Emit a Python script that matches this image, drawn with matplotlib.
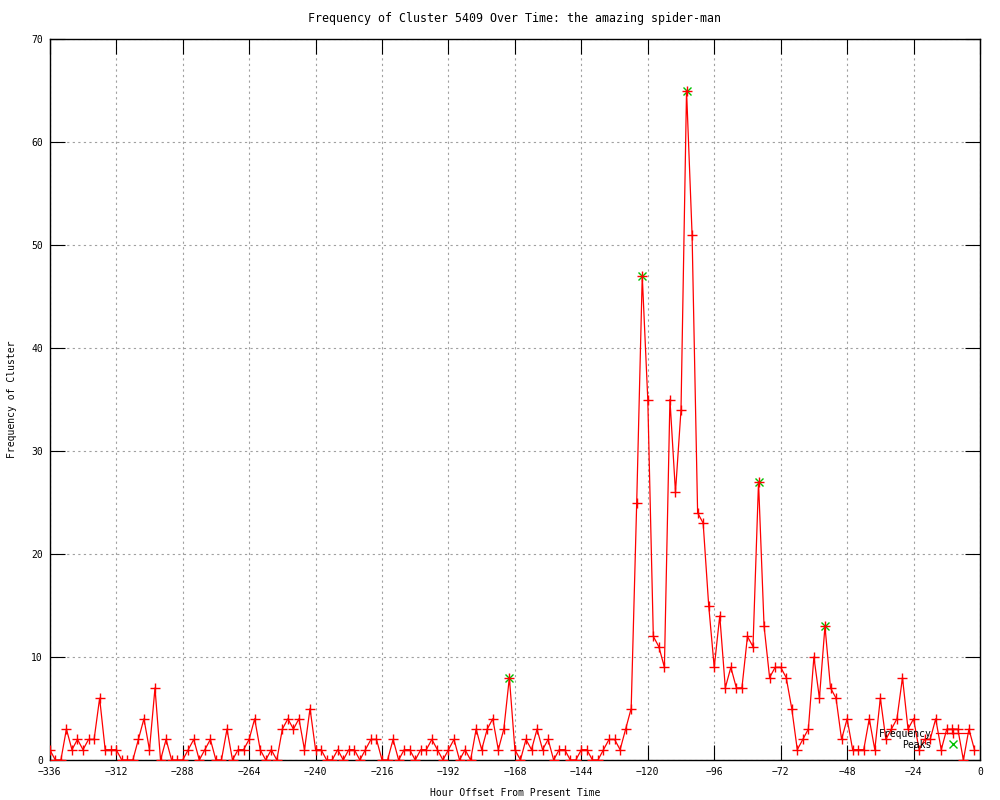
import numpy as np
import matplotlib
matplotlib.use('Agg')
import matplotlib.pyplot as plt

plt.rcParams['font.family'] = ['DejaVu Sans Mono']
plt.rcParams['font.size'] = 7

# hour offsets, every 2 hours from -336 to -2
hours = list(range(-336, 0, 2))
freq = [
    1, 0, 0, 3, 1, 2, 1, 2, 2, 6, 1, 1, 1, 0, 0, 0, 2, 4, 1, 7,   # -336 .. -298
    0, 2, 0, 0, 0, 1, 2, 0, 1, 2, 0, 0, 3, 0, 1, 1, 2, 4, 1, 0,   # -296 .. -258
    1, 0, 3, 4, 3, 4, 1, 5, 1, 1, 0, 0, 1, 0, 1, 1, 0, 1, 2, 2,   # -256 .. -218
    0, 0, 2, 0, 1, 1, 0, 1, 1, 2, 1, 0, 1, 2, 0, 1, 0, 3, 1, 3,   # -216 .. -178
    4, 1, 3, 8, 1, 0, 2, 1, 3, 1, 2, 0, 1, 1, 0, 0, 1, 1, 0, 0,   # -176 .. -138
    1, 2, 2, 1, 3, 5, 25, 47, 35, 12, 11, 9, 35, 26, 34, 65, 51, 24, 23, 15,  # -136 .. -98
    9, 14, 7, 9, 7, 7, 12, 11, 27, 13, 8, 9, 9, 8, 5, 1, 2, 3, 10, 6,  # -96 .. -58
    13, 7, 6, 2, 4, 1, 1, 1, 4, 1, 6, 2, 3, 4, 8, 3, 4, 1, 2, 2,  # -56 .. -18
    4, 1, 3, 3, 3, 0, 3, 1,  # -16 .. -2
]

peak_hours = [-170, -122, -106, -80, -56]
peak_vals = [8, 47, 65, 27, 13]

fig = plt.figure(figsize=(10, 8), dpi=100)
ax = fig.add_axes([0.0498, 0.05, 0.9302, 0.90125])

ax.plot(peak_hours, peak_vals, linestyle='none', marker='x', color='#00c000',
        markersize=6, markeredgewidth=1, label='Peaks', zorder=3)
ax.plot(hours, freq, color='red', linewidth=0.9, marker='+', markersize=7.5,
        markeredgewidth=1, label='Frequency', zorder=4)

ax.set_xlim(-336, 0)
ax.set_ylim(0, 70)
ax.set_xticks(range(-336, 1, 24))
ax.set_yticks(range(0, 71, 10))
ax.grid(True, color='#a0a0a0', linestyle=(0, (2, 3)), linewidth=0.8)
ax.tick_params(direction='in', length=11, top=True, right=True, pad=5)
for s in ax.spines.values():
    s.set_linewidth(1)

ax.set_title('Frequency of Cluster 5409 Over Time: the amazing spider-man', pad=12)
ax.set_xlabel('Hour Offset From Present Time', labelpad=8)
ax.set_ylabel('Frequency of Cluster', labelpad=10)

handles, labels = ax.get_legend_handles_labels()
ax.legend(handles[::-1], labels[::-1], loc='lower right', frameon=False,
          markerfirst=False, handlelength=3.5, handletextpad=0.5,
          borderaxespad=0.3, labelspacing=0.1, bbox_to_anchor=(0.997, 0.005))

fig.savefig('out.png', dpi=100)
